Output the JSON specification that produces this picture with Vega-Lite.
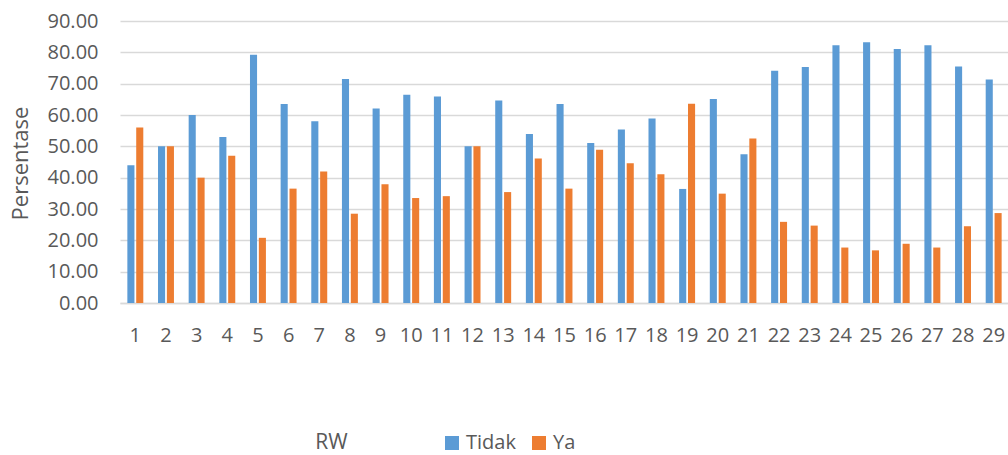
{
  "$schema": "https://vega.github.io/schema/vega-lite/v6.json",
  "autosize": {"type": "none"},
  "padding": {"left": 120, "top": 21, "right": 0, "bottom": 152},
  "width": 889,
  "height": 282,
  "background": "white",
  "config": {
    "font": "Open Sans",
    "view": {"stroke": null}
  },
  "data": {
    "values": [
      {"RW": 1, "Kategori": "Tidak", "Persentase": 44.0}, {"RW": 1, "Kategori": "Ya", "Persentase": 56.0},
      {"RW": 2, "Kategori": "Tidak", "Persentase": 50.0}, {"RW": 2, "Kategori": "Ya", "Persentase": 50.0},
      {"RW": 3, "Kategori": "Tidak", "Persentase": 60.0}, {"RW": 3, "Kategori": "Ya", "Persentase": 40.0},
      {"RW": 4, "Kategori": "Tidak", "Persentase": 53.0}, {"RW": 4, "Kategori": "Ya", "Persentase": 47.0},
      {"RW": 5, "Kategori": "Tidak", "Persentase": 79.2}, {"RW": 5, "Kategori": "Ya", "Persentase": 20.8},
      {"RW": 6, "Kategori": "Tidak", "Persentase": 63.5}, {"RW": 6, "Kategori": "Ya", "Persentase": 36.5},
      {"RW": 7, "Kategori": "Tidak", "Persentase": 58.0}, {"RW": 7, "Kategori": "Ya", "Persentase": 42.0},
      {"RW": 8, "Kategori": "Tidak", "Persentase": 71.5}, {"RW": 8, "Kategori": "Ya", "Persentase": 28.5},
      {"RW": 9, "Kategori": "Tidak", "Persentase": 62.1}, {"RW": 9, "Kategori": "Ya", "Persentase": 37.9},
      {"RW": 10, "Kategori": "Tidak", "Persentase": 66.5}, {"RW": 10, "Kategori": "Ya", "Persentase": 33.5},
      {"RW": 11, "Kategori": "Tidak", "Persentase": 65.9}, {"RW": 11, "Kategori": "Ya", "Persentase": 34.1},
      {"RW": 12, "Kategori": "Tidak", "Persentase": 50.0}, {"RW": 12, "Kategori": "Ya", "Persentase": 50.0},
      {"RW": 13, "Kategori": "Tidak", "Persentase": 64.6}, {"RW": 13, "Kategori": "Ya", "Persentase": 35.4},
      {"RW": 14, "Kategori": "Tidak", "Persentase": 53.9}, {"RW": 14, "Kategori": "Ya", "Persentase": 46.1},
      {"RW": 15, "Kategori": "Tidak", "Persentase": 63.5}, {"RW": 15, "Kategori": "Ya", "Persentase": 36.5},
      {"RW": 16, "Kategori": "Tidak", "Persentase": 51.1}, {"RW": 16, "Kategori": "Ya", "Persentase": 48.9},
      {"RW": 17, "Kategori": "Tidak", "Persentase": 55.4}, {"RW": 17, "Kategori": "Ya", "Persentase": 44.6},
      {"RW": 18, "Kategori": "Tidak", "Persentase": 58.9}, {"RW": 18, "Kategori": "Ya", "Persentase": 41.1},
      {"RW": 19, "Kategori": "Tidak", "Persentase": 36.4}, {"RW": 19, "Kategori": "Ya", "Persentase": 63.6},
      {"RW": 20, "Kategori": "Tidak", "Persentase": 65.1}, {"RW": 20, "Kategori": "Ya", "Persentase": 34.9},
      {"RW": 21, "Kategori": "Tidak", "Persentase": 47.5}, {"RW": 21, "Kategori": "Ya", "Persentase": 52.5},
      {"RW": 22, "Kategori": "Tidak", "Persentase": 74.1}, {"RW": 22, "Kategori": "Ya", "Persentase": 25.9},
      {"RW": 23, "Kategori": "Tidak", "Persentase": 75.3}, {"RW": 23, "Kategori": "Ya", "Persentase": 24.7},
      {"RW": 24, "Kategori": "Tidak", "Persentase": 82.3}, {"RW": 24, "Kategori": "Ya", "Persentase": 17.7},
      {"RW": 25, "Kategori": "Tidak", "Persentase": 83.2}, {"RW": 25, "Kategori": "Ya", "Persentase": 16.8},
      {"RW": 26, "Kategori": "Tidak", "Persentase": 81.1}, {"RW": 26, "Kategori": "Ya", "Persentase": 18.9},
      {"RW": 27, "Kategori": "Tidak", "Persentase": 82.3}, {"RW": 27, "Kategori": "Ya", "Persentase": 17.7},
      {"RW": 28, "Kategori": "Tidak", "Persentase": 75.5}, {"RW": 28, "Kategori": "Ya", "Persentase": 24.5},
      {"RW": 29, "Kategori": "Tidak", "Persentase": 71.3}, {"RW": 29, "Kategori": "Ya", "Persentase": 28.7}
    ]
  },
  "mark": {"type": "bar"},
  "encoding": {
    "x": {
      "field": "RW",
      "type": "ordinal",
      "sort": null,
      "scale": {"paddingInner": 0.48, "paddingOuter": 0.24},
      "axis": {
        "labelAngle": 0,
        "labelFontSize": 20,
        "labelColor": "#595959",
        "labelPadding": 22,
        "ticks": false,
        "domainColor": "#d9d9d9",
        "domainWidth": 1.5,
        "title": "RW",
        "titleFontSize": 21,
        "titleFontWeight": "normal",
        "titleColor": "#595959",
        "titleX": 211,
        "titleY": 145,
        "titleAlign": "center",
        "titleBaseline": "alphabetic"
      }
    },
    "xOffset": {
      "field": "Kategori",
      "type": "nominal",
      "scale": {"paddingInner": 0.2}
    },
    "y": {
      "field": "Persentase",
      "type": "quantitative",
      "scale": {"domain": [0, 90], "nice": false},
      "axis": {
        "values": [0, 10, 20, 30, 40, 50, 60, 70, 80, 90],
        "format": ".2f",
        "labelFontSize": 20,
        "labelColor": "#595959",
        "labelPadding": 22,
        "ticks": false,
        "domain": false,
        "gridColor": "#d9d9d9",
        "gridWidth": 1.5,
        "title": "Persentase",
        "titleFontSize": 22,
        "titleFontWeight": "normal",
        "titleColor": "#595959",
        "titleAngle": -90,
        "titleX": -93,
        "titleY": 142,
        "titleAlign": "center",
        "titleBaseline": "alphabetic"
      }
    },
    "color": {
      "field": "Kategori",
      "type": "nominal",
      "scale": {"domain": ["Tidak", "Ya"], "range": ["#5b9bd5", "#ed7d31"]},
      "legend": {
        "title": null,
        "orient": "none",
        "direction": "horizontal",
        "legendX": 322,
        "legendY": 412,
        "padding": 0,
        "symbolType": "square",
        "symbolSize": 196,
        "symbolStrokeWidth": 0,
        "symbolOpacity": 1,
        "labelFontSize": 20,
        "labelColor": "#595959",
        "labelOffset": 4,
        "columnPadding": 13
      }
    }
  }
}
